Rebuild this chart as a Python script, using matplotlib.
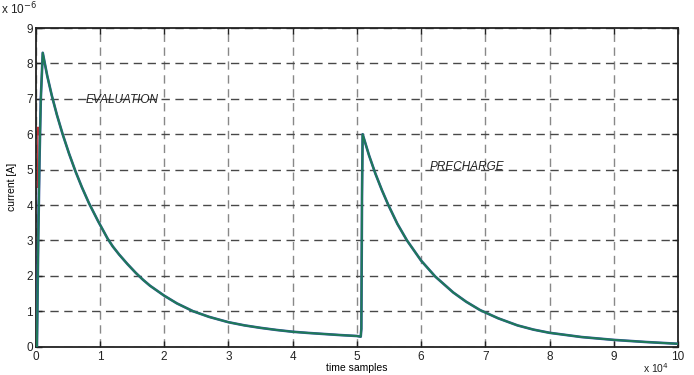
import matplotlib
matplotlib.use("Agg")
import matplotlib.pyplot as plt

# ---- data (x in units of 1e4 samples, current in units of 1e-6 A) ----
eval_x = [0.0, 0.02, 0.04, 0.06, 0.08, 0.11, 0.18, 0.25, 0.33, 0.42, 0.52, 0.62, 0.72,
          0.83, 0.97, 1.12, 1.20, 1.30, 1.43, 1.56, 1.67, 1.78, 2.00, 2.20, 2.45,
          2.70, 3.00, 3.25, 3.50, 3.75, 4.00, 4.25, 4.50, 4.75, 5.00, 5.06]
eval_y = [0.0, 0.0, 3.0, 5.3, 7.0, 8.3, 7.65, 7.1, 6.55, 6.0, 5.45, 4.95, 4.5,
          4.05, 3.55, 3.05, 2.83, 2.6, 2.33, 2.08, 1.89, 1.72, 1.44, 1.22, 1.0,
          0.84, 0.69, 0.60, 0.53, 0.47, 0.42, 0.385, 0.355, 0.325, 0.30, 0.28]
pre_x = [5.06, 5.07, 5.08, 5.09, 5.19, 5.29, 5.39, 5.49, 5.63, 5.78, 6.00, 6.22,
         6.50, 6.70, 6.92, 7.20, 7.50, 7.75, 8.00, 8.50, 9.00, 9.50, 10.0]
pre_y = [0.28, 0.50, 4.2, 6.0, 5.4, 4.88, 4.42, 4.0, 3.47, 3.0, 2.43, 1.98,
         1.53, 1.27, 1.03, 0.80, 0.60, 0.48, 0.39, 0.27, 0.19, 0.13, 0.08]
# small spurs of other overlapping traces at the start
red_x = [0.03, 0.035, 0.04]
red_y = [4.5, 6.2, 6.0]
blue_x = [0.02, 0.03, 0.05]
blue_y = [0.0, 3.0, 4.8]

x_ticks = list(range(0, 11))
y_ticks = list(range(0, 10))

plt.rcParams['font.family'] = ['Liberation Sans', 'DejaVu Sans']

fig = plt.figure(figsize=(6.94, 3.75), dpi=100)
ax = fig.add_axes([0.0514, 0.0757, 0.977 - 0.0514, 0.9253 - 0.0757])

x_all = eval_x + pre_x[1:]
y_all = eval_y + pre_y[1:]
ax.plot(blue_x, blue_y, color='#2a4fa0', lw=1.0, zorder=3)
ax.plot(red_x, red_y, color='#c03030', lw=1.0, zorder=3)
ax.plot(x_all, y_all, color='#3a55a0', lw=1.9, zorder=3)
ax.plot(x_all, y_all, color='#1e7a58', lw=1.4, zorder=4)

ax.set_xlim(0, 10)
ax.set_ylim(0, 9)
ax.set_xticks(x_ticks)
ax.set_yticks(y_ticks)
ax.set_xticklabels([str(v) for v in x_ticks])
ax.set_yticklabels([str(v) for v in y_ticks])
ax.tick_params(direction='in', top=True, right=True, length=4, width=1,
               labelsize=8.5, colors='#222222')
ax.tick_params(axis='x', pad=3.5)
ax.tick_params(axis='y', pad=2)
for s in ax.spines.values():
    s.set_linewidth(1.3)
    s.set_color('#222222')

ax.xaxis.grid(True, color='#888888', linestyle=(0, (6, 4)), linewidth=1.0)
ax.yaxis.grid(True, color='#484848', linestyle=(0, (6, 4)), linewidth=1.0)
ax.set_axisbelow(True)

ax.set_xlabel('time samples', fontsize=7.5, labelpad=0)
ax.set_ylabel('current [A]', fontsize=7.5, labelpad=7)

ax.text(0.78, 6.97, 'EVALUATION', style='italic', fontsize=8.5,
        va='center', ha='left', color='#222222')
ax.text(6.14, 5.07, 'PRECHARGE', style='italic', fontsize=8.5,
        va='center', ha='left', color='#222222')

fig.text(0.002, 0.955, r'x 10$^{-6}$', fontsize=8.5, ha='left', va='bottom',
         color='#222222')
fig.text(0.927, 0.0, r'x 10$^{4}$', fontsize=7.5, ha='left', va='bottom',
         color='#222222')

fig.savefig('out.png', dpi=100)
